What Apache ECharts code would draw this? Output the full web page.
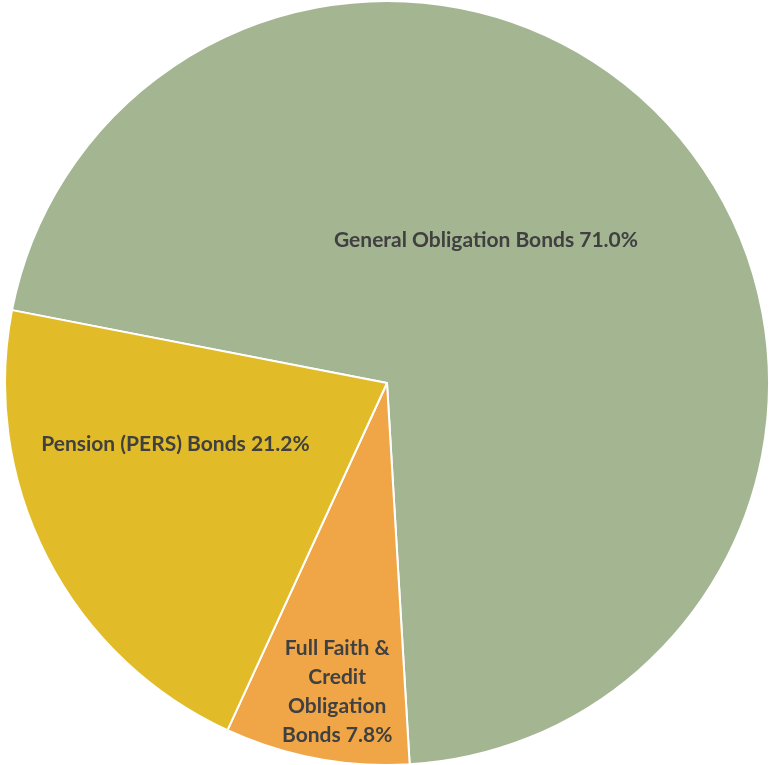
<!DOCTYPE html>
<html>
<head>
<meta charset="utf-8">
<script src="https://cdn.jsdelivr.net/npm/echarts@6/dist/echarts.min.js"></script>
<style>
  html, body { margin: 0; padding: 0; background: #ffffff; }
  #chart { width: 769px; height: 765px; }
</style>
</head>
<body>
<div id="chart"></div>
<script>
// Debt outstanding by bond type (share of total, %)
const categories = [
  'General Obligation Bonds',
  'Full Faith &\nCredit\nObligation\nBonds',
  'Pension (PERS) Bonds'
];
const shares = [71.0, 7.8, 21.2];
const colors = ['#A4B592', '#F0A646', '#E2BC28'];

// label nudges away from the default mid-radius spot
const labelShift = [
  { dx: -47, dy: -15 },
  { dx: -14, dy: 118 },
  { dx: -39, dy: -27 }
];

const chart = echarts.init(document.getElementById('chart'));
chart.setOption({
  animation: false,
  series: [{
    type: 'pie',
    center: [387, 383],
    radius: 382,
    startAngle: 169,
    clockwise: true,
    itemStyle: { borderColor: '#ffffff', borderWidth: 2 },
    label: {
      show: true,
      position: 'inner',
      color: '#404040',
      fontFamily: 'Lato',
      fontWeight: 'bold',
      fontSize: 21,
      lineHeight: 29,
      align: 'center',
      formatter: p => p.name + ' ' + p.value.toFixed(1) + '%'
    },
    labelLine: { show: false },
    labelLayout: p => labelShift[p.dataIndex],
    data: categories.map((c, i) => ({
      name: c,
      value: shares[i],
      itemStyle: { color: colors[i] }
    }))
  }]
});
</script>
</body>
</html>
